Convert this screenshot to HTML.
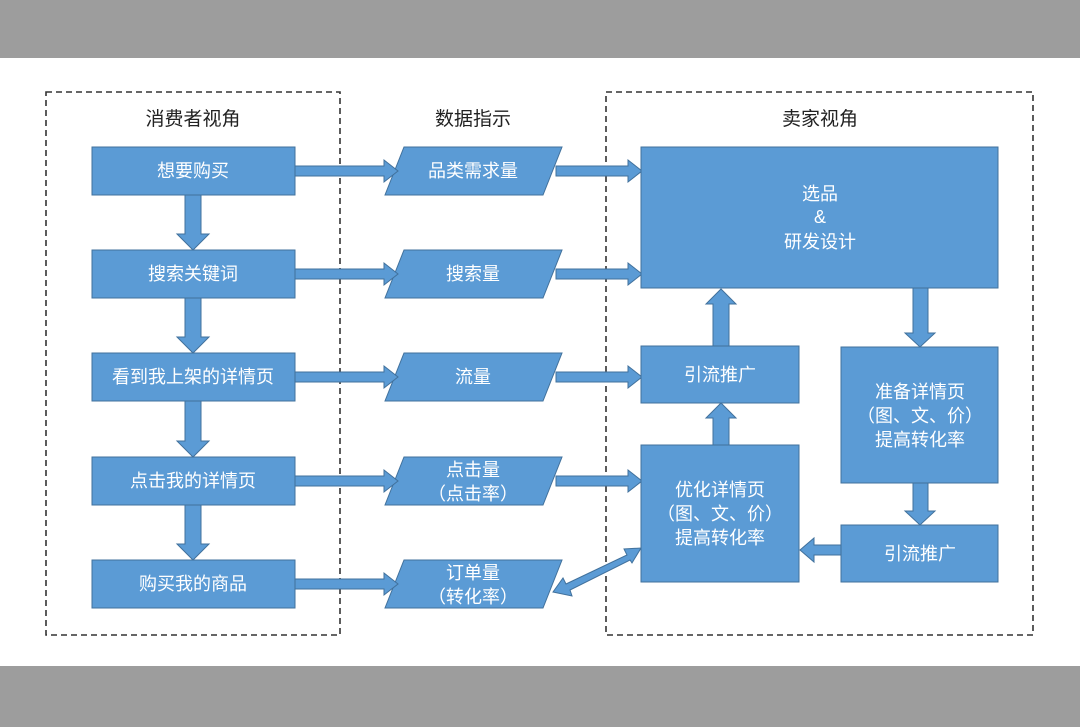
<!DOCTYPE html>
<html><head><meta charset="utf-8"><style>
html,body{margin:0;padding:0;background:#fff}
svg{display:block}
text{font-family:"Liberation Sans","Noto Sans CJK SC",sans-serif;}
</style></head><body>
<svg width="1080" height="727" viewBox="0 0 1080 727" xmlns="http://www.w3.org/2000/svg">
<rect x="0" y="0" width="1080" height="58" fill="#9d9d9d"/>
<rect x="0" y="666" width="1080" height="61" fill="#9d9d9d"/>
<rect x="0" y="58" width="1080" height="608" fill="#fff"/>
<g fill="none" stroke="#333" stroke-width="1.6" stroke-dasharray="6,4">
<rect x="46" y="92" width="294" height="543"/>
<rect x="606" y="92" width="427" height="543"/>
</g>
<g font-size="19" fill="#222" text-anchor="middle">
<text x="193" y="125">消费者视角</text>
<text x="473" y="125">数据指示</text>
<text x="820" y="125">卖家视角</text>
</g>
<g fill="#5b9bd5" stroke="#41719c" stroke-width="1">
<!-- left boxes -->
<rect x="92" y="147" width="203" height="48"/>
<rect x="92" y="250" width="203" height="48"/>
<rect x="92" y="353" width="203" height="48"/>
<rect x="92" y="457" width="203" height="48"/>
<rect x="92" y="560" width="203" height="48"/>
<!-- down arrows -->
<polygon points="185,195 201,195 201,234 209,234 193,250 177,234 185,234"/>
<polygon points="185,298 201,298 201,337 209,337 193,353 177,337 185,337"/>
<polygon points="185,401 201,401 201,441 209,441 193,457 177,441 185,441"/>
<polygon points="185,505 201,505 201,544 209,544 193,560 177,544 185,544"/>
<!-- parallelograms -->
<polygon points="404,147 562,147 543,195 385,195"/>
<polygon points="404,250 562,250 543,298 385,298"/>
<polygon points="404,353 562,353 543,401 385,401"/>
<polygon points="404,457 562,457 543,505 385,505"/>
<polygon points="404,560 562,560 543,608 385,608"/>
<!-- right arrows left side -->
<polygon points="295,166 384,166 384,160 398,171 384,182 384,176 295,176"/>
<polygon points="295,269 384,269 384,263 398,274 384,285 384,279 295,279"/>
<polygon points="295,372 384,372 384,366 398,377 384,388 384,382 295,382"/>
<polygon points="295,476 384,476 384,470 398,481 384,492 384,486 295,486"/>
<polygon points="295,579 384,579 384,573 398,584 384,595 384,589 295,589"/>
<!-- right arrows to seller -->
<polygon points="556,166 628,166 628,160 642,171 628,182 628,176 556,176"/>
<polygon points="556,269 628,269 628,263 642,274 628,285 628,279 556,279"/>
<polygon points="556,372 628,372 628,366 642,377 628,388 628,382 556,382"/>
<polygon points="556,476 628,476 628,470 642,481 628,492 628,486 556,486"/>
<!-- diagonal -->
<polygon points="566,584 627,555 624,549 641,548 632,563 630,560 570,590 572,596 553,592 563,578"/>
<!-- seller boxes -->
<rect x="641" y="147" width="357" height="141"/>
<rect x="641" y="346" width="158" height="57"/>
<rect x="641" y="445" width="158" height="137"/>
<rect x="841" y="347" width="157" height="136"/>
<rect x="841" y="525" width="157" height="57"/>
<!-- up arrows -->
<polygon points="713,346 729,346 729,304 736,304 721,289 706,304 713,304"/>
<polygon points="713,445 729,445 729,418 736,418 721,403 706,418 713,418"/>
<!-- down arrows right -->
<polygon points="913,288 928,288 928,333 935,333 920,347 905,333 913,333"/>
<polygon points="913,483 928,483 928,511 935,511 920,525 905,511 913,511"/>
<!-- left arrow -->
<polygon points="841,545 814,545 814,538 800,550 814,562 814,555 841,555"/>
</g>
<g font-size="18" fill="#fff" text-anchor="middle">
<text x="193" y="177">想要购买</text>
<text x="193" y="280">搜索关键词</text>
<text x="193" y="383">看到我上架的详情页</text>
<text x="193" y="487">点击我的详情页</text>
<text x="193" y="590">购买我的商品</text>
<text x="473" y="177">品类需求量</text>
<text x="473" y="280">搜索量</text>
<text x="473" y="383">流量</text>
<text x="473" y="476">点击量</text>
<text x="473" y="500">（点击率）</text>
<text x="473" y="579">订单量</text>
<text x="473" y="603">（转化率）</text>
<text x="820" y="200">选品</text>
<text x="820" y="223">&amp;</text>
<text x="820" y="248">研发设计</text>
<text x="720" y="381">引流推广</text>
<text x="720" y="496">优化详情页</text>
<text x="720" y="520">（图、文、价）</text>
<text x="720" y="544">提高转化率</text>
<text x="920" y="398">准备详情页</text>
<text x="920" y="422">（图、文、价）</text>
<text x="920" y="446">提高转化率</text>
<text x="920" y="560">引流推广</text>
</g>
</svg>
</body></html>
